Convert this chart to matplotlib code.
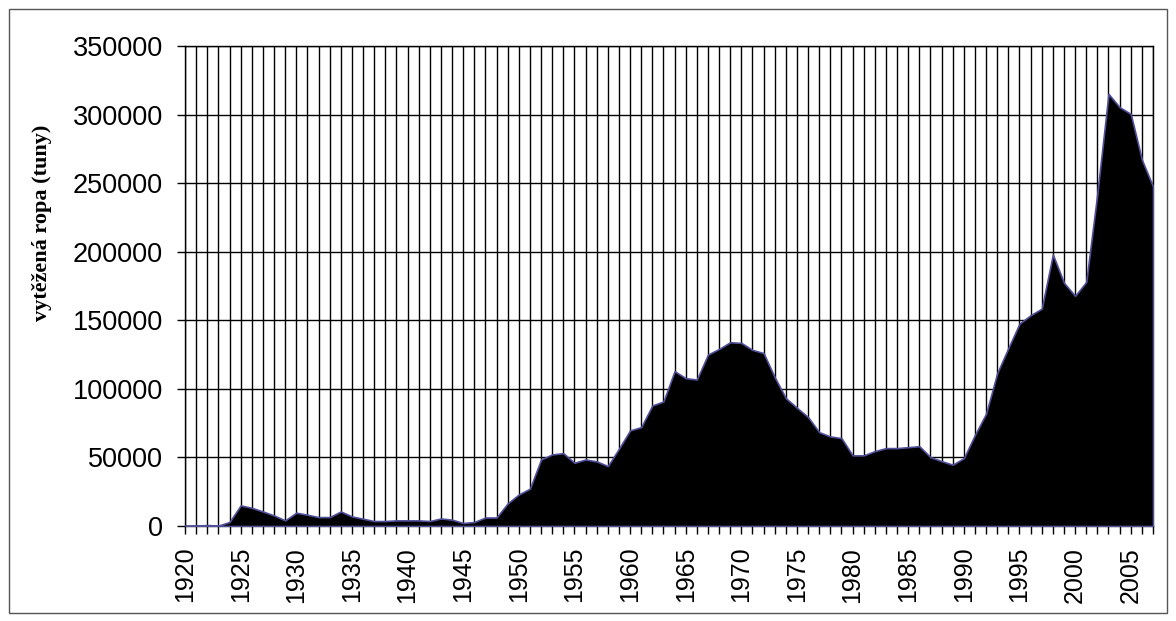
import matplotlib.pyplot as plt
import matplotlib.patches as patches
import numpy as np

years = list(range(1920, 2008))
tonnes = [
    0, 300, 700, 300, 2900, 15000, 13300, 10600, 7700, 4100,
    9700, 8200, 6500, 6500, 10600, 7000, 5300, 3600, 3600, 4100,
    4100, 4100, 3600, 5500, 4600, 2200, 2900, 6200, 6200, 16500,
    23000, 27200, 48500, 52200, 53100, 46100, 48500, 47100, 43700, 56300,
    69700, 72100, 87900, 90800, 112900, 107800, 106800, 125000, 129100, 134000,
    133500, 128400, 126100, 108500, 93200, 86200, 79400, 68400, 65300, 64100,
    51500, 51500, 54600, 56800, 56800, 57500, 58200, 50200, 47300, 44700,
    49500, 66500, 82000, 111500, 129800, 147600, 153700, 158500, 198000, 177300,
    167800, 178000, 242700, 315100, 305400, 300500, 267100, 247600,
]
label_years = list(range(1920, 2006, 5))
y_ticks = list(range(0, 350001, 50000))


def main():
    fig = plt.figure(figsize=(11.76, 6.21), dpi=100)
    ax = fig.add_axes([185 / 1176, 95 / 621, 968 / 1176, 480 / 621])

    x = np.array(years)
    y = np.array(tonnes)
    ax.fill_between(x, 0, y, facecolor="black", edgecolor="#50509a",
                    linewidth=1.2, zorder=3)

    ax.set_xlim(1920, 2007)
    ax.set_ylim(0, 350000)
    ax.set_xticks(years, minor=True)
    ax.set_xticks(label_years)
    ax.set_xticklabels([str(v) for v in label_years], rotation=90,
                       fontsize=18, family="Liberation Sans")
    ax.set_yticks(y_ticks)
    ax.set_yticklabels([str(v) for v in y_ticks], fontsize=19.5,
                       family="Liberation Sans")

    ax.grid(True, which="both", axis="x", color="black", linewidth=1)
    ax.grid(True, which="major", axis="y", color="black", linewidth=1)
    ax.set_axisbelow(True)
    ax.tick_params(axis="both", which="both", direction="out", length=6,
                   width=1, color="black")
    ax.tick_params(axis="x", which="major", pad=9)
    ax.tick_params(axis="y", which="major", pad=10)
    for s in ax.spines.values():
        s.set_color("black")
        s.set_linewidth(1)

    ax.set_ylabel("vytěžená ropa (tuny)", family="Liberation Serif",
                  fontweight="bold", fontsize=16)
    ax.yaxis.set_label_coords(-0.137, 0.632)

    border = patches.Rectangle((9 / 1176, 8 / 621), 1158 / 1176, 604 / 621,
                               transform=fig.transFigure, fill=False,
                               edgecolor="#555555", linewidth=1)
    fig.patches.append(border)

    fig.savefig("out.png", dpi=100)


if __name__ == "__main__":
    main()
